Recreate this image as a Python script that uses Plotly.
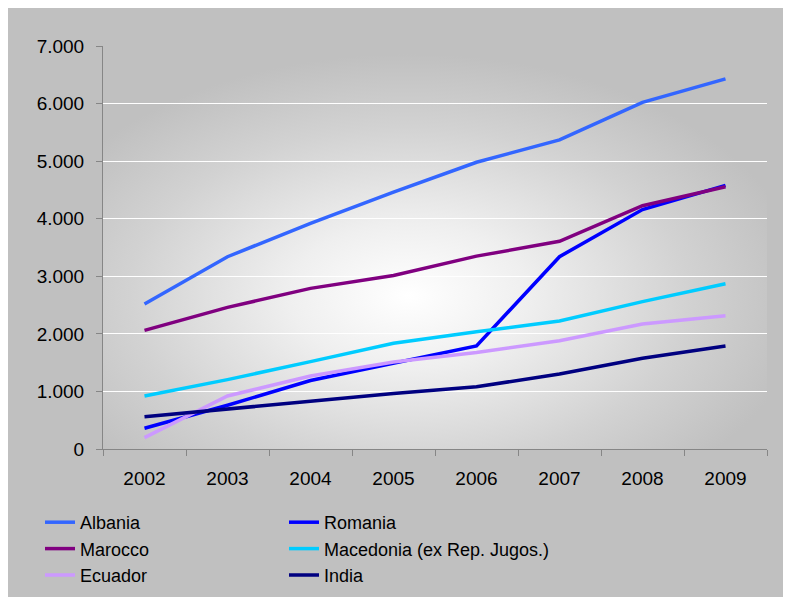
import base64
import plotly.graph_objects as go

years = ["2002", "2003", "2004", "2005", "2006", "2007", "2008", "2009"]

albania = [2520, 3340, 3920, 4460, 4980, 5370, 6020, 6430]
romania = [360, 760, 1190, 1490, 1790, 3340, 4160, 4580]
marocco = [2060, 2460, 2790, 3015, 3350, 3607, 4225, 4556]
macedonia = [920, 1205, 1517, 1836, 2035, 2223, 2559, 2871]
ecuador = [197, 921, 1268, 1510, 1675, 1880, 2171, 2316]
india = [561, 690, 828, 965, 1080, 1303, 1575, 1789]

series = [
    ("Albania", albania, "#3366FF", "legend"),
    ("Romania", romania, "#0000FF", "legend2"),
    ("Marocco", marocco, "#800080", "legend"),
    ("Macedonia (ex Rep. Jugos.)", macedonia, "#00CCFF", "legend2"),
    ("Ecuador", ecuador, "#CC99FF", "legend"),
    ("India", india, "#000080", "legend2"),
]

FONT = "Liberation Sans, Arial, sans-serif"

fig = go.Figure()
for name, vals, col, lg in series:
    fig.add_trace(go.Scatter(
        x=years, y=vals, name=name, mode="lines",
        line=dict(color=col, width=3.5), legend=lg,
    ))

svg = (
    '<svg xmlns="http://www.w3.org/2000/svg" width="664" height="403" '
    'viewBox="0 0 664 403" preserveAspectRatio="none">'
    '<defs><radialGradient id="g" cx="0.46" cy="0.62" r="0.6">'
    '<stop offset="0" stop-color="#ffffff"/>'
    '<stop offset="0.3" stop-color="#efefef"/>'
    '<stop offset="0.7" stop-color="#d2d2d2"/>'
    '<stop offset="1" stop-color="#c0c0c0"/>'
    '</radialGradient></defs>'
    '<rect width="664" height="403" fill="url(#g)"/></svg>'
)
src = "data:image/svg+xml;base64," + base64.b64encode(svg.encode()).decode()

legend_common = dict(
    orientation="v", xref="container", yref="container",
    xanchor="left", yanchor="top", itemwidth=30, tracegroupgap=0,
    bgcolor="rgba(0,0,0,0)",
    font=dict(family=FONT, size=18, color="#000000"),
    traceorder="normal",
)

fig.update_layout(
    width=791, height=597,
    margin=dict(l=95, r=32, t=38, b=156, autoexpand=False),
    paper_bgcolor="#c0c0c0",
    plot_bgcolor="rgba(0,0,0,0)",
    separators=",.",
    font=dict(family=FONT, size=19, color="#000000"),
    images=[dict(source=src, xref="paper", yref="paper", x=0, y=1,
                 sizex=1, sizey=1, xanchor="left", yanchor="top",
                 sizing="stretch", layer="below")],
    xaxis=dict(
        type="category", range=[-0.5, 7.5], tickson="boundaries",
        ticks="outside", ticklen=6, tickcolor="#868686",
        showline=True, linecolor="#868686", linewidth=1,
        showgrid=False, ticklabelstandoff=12,
        tickfont=dict(size=19),
    ),
    yaxis=dict(
        range=[0, 7000], dtick=1000, tickformat=",",
        ticks="outside", ticklen=6, tickcolor="#868686",
        showline=True, linecolor="#868686", linewidth=1,
        gridcolor="#ffffff", gridwidth=1, zeroline=False,
        ticklabelstandoff=8, tickfont=dict(size=19),
    ),
    legend=dict(x=32 / 791, y=1 - 496 / 597, **legend_common),
    legend2=dict(x=276 / 791, y=1 - 496 / 597, **legend_common),
    showlegend=True,
)

fig.write_html("out.html")
